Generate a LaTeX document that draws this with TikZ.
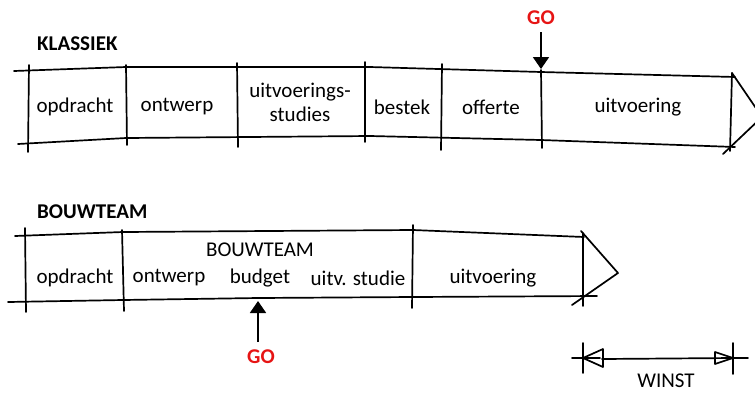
\documentclass[tikz,border=0pt]{standalone}
\usepackage{fontspec}
\setmainfont{Carlito}
\usetikzlibrary{arrows.meta}
\definecolor{gored}{RGB}{230,20,20}
\tikzset{
  pen/.style={line width=1.7pt, line cap=round, line join=round},
  lbl/.style={font=\fontsize{21}{24}\selectfont, inner sep=0pt, align=center},
  head/.style={font=\fontsize{21}{24}\selectfont\bfseries, inner sep=0pt},
  golbl/.style={font=\fontsize{21}{24}\selectfont\bfseries, text=gored, inner sep=0pt},
  goarrow/.style={line width=1.8pt, -{Triangle[length=12pt,width=16pt]}}
}
\begin{document}
\begin{tikzpicture}[x=1pt,y=-1pt]
\useasboundingbox (0,0) rectangle (755,392);
% ---------- KLASSIEK ----------
\node[head, anchor=west] (klassiek) at (37,44) {KLASSIEK};
\draw[pen] (14,71) -- (126,67) -- (370,67) -- (541,72) -- (735,77);
\draw[pen] (18,144) -- (126,138) -- (370,136) -- (541,140) -- (735,147);
\draw[pen] (29,65) -- (28,152);
\draw[pen] (126,65) -- (127,145);
\draw[pen] (237,63) -- (238,147);
\draw[pen] (365,62) -- (365,142);
\draw[pen] (442,64) -- (441,150);
\draw[pen] (541,70) -- (542,148);
\draw[pen] (732,73) -- (730,151);
\draw[pen] (732,73) -- (762,117) -- (723,154);
\node[lbl] (k1) at (75,107) {opdracht};
\node[lbl] (k2) at (177,107) {ontwerp};
\node[lbl] (k3) at (300,102) {uitvoerings-\\studies};
\node[lbl] (k4) at (402,107) {bestek};
\node[lbl] (k5) at (491,107) {offerte};
\node[lbl] (k6) at (638,107) {uitvoering};
\node[golbl] (go1) at (541,18) {GO};
\coordinate (go1t) at (541,69);
\draw[goarrow] (541,32) -- (go1t);
% ---------- BOUWTEAM ----------
\node[head, anchor=west] (bouwteam) at (37,212) {BOUWTEAM};
\draw[pen] (15,236) -- (123,232) -- (413,230) -- (584,237);
\draw[pen] (8,302) -- (123,300) -- (258,298) -- (413,297) -- (597,296);
\draw[pen] (25,228) -- (26,312);
\draw[pen] (122,230) -- (124,311);
\draw[pen] (413,225) -- (412,308);
\draw[pen] (583,233) -- (583,306);
\draw[pen] (581,231) -- (618,273) -- (572,305);
\node[lbl] (b0) at (260,250) {BOUWTEAM};
\node[lbl] (b1) at (75,278) {opdracht};
\node[lbl] (b2) at (169,278) {ontwerp};
\node[lbl] (b3) at (260,278) {budget};
\node[lbl] (b4) at (358,278) {uitv. studie};
\node[lbl] (b5) at (493,278) {uitvoering};
\node[golbl] (go2) at (261,357) {GO};
\coordinate (go2t) at (258,301);
\draw[goarrow] (258,342) -- (go2t);
% ---------- WINST ----------
\coordinate (w1) at (583,358);
\coordinate (w2) at (733,358);
\draw[pen] (572,358) -- (w1) -- (600,358);
\draw[pen] (602,359) -- (w2) -- (748,358);
\draw[pen] (w1) -- (603,349) -- (603,367) -- cycle;
\draw[pen] (w2) -- (715,352) -- (715,364) -- cycle;
\draw[pen] (583,343) -- (583,373);
\draw[pen] (733,343) -- (733,374);
\node[lbl] (winst) at (666,381) {WINST};
\end{tikzpicture}
\end{document}
